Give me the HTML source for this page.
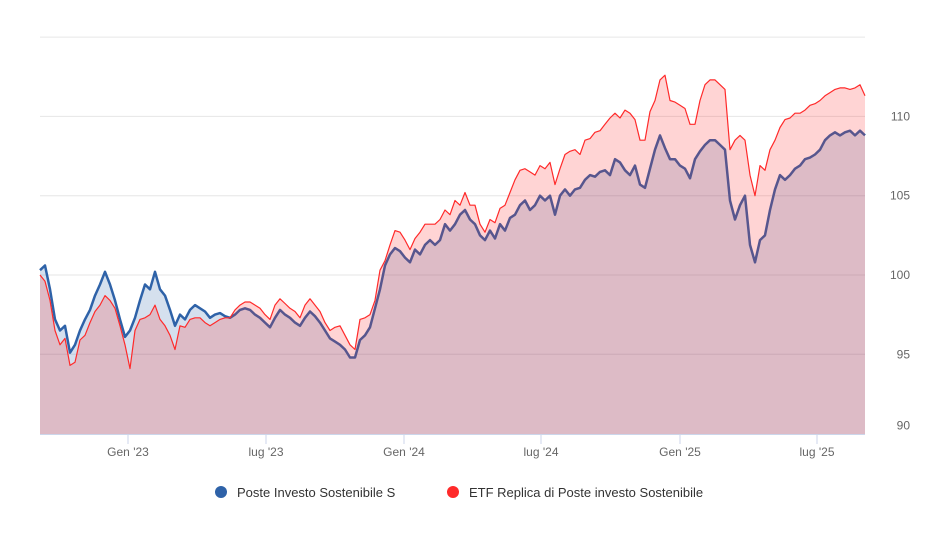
<!DOCTYPE html>
<html><head><meta charset="utf-8"><style>
body{margin:0;background:#fff;font-family:"Liberation Sans",sans-serif}
svg text{font-family:"Liberation Sans",sans-serif}
</style></head><body>
<svg id="chart" width="926" height="531" viewBox="0 0 926 531" xmlns="http://www.w3.org/2000/svg">
<g id="grid"></g>
<g id="series"></g>
<g id="axes"></g>
<g>
<g><circle cx="221" cy="492" r="6" fill="#2e62a8"/><text x="237" y="497" font-size="13" fill="#333">Poste Investo Sostenibile S</text></g>
<g><circle cx="453" cy="492" r="6" fill="#ff2a2a"/><text x="469" y="497" font-size="13" fill="#333">ETF Replica di Poste investo Sostenibile</text></g>
</g>
</svg>
<script>
const posteValues=[100.3,100.6,99.1,97.2,96.5,96.8,95.1,95.6,96.5,97.2,97.8,98.7,99.4,100.2,99.4,98.4,97.2,96.1,96.5,97.3,98.4,99.4,99.1,100.2,99.1,98.7,97.8,96.8,97.5,97.2,97.8,98.1,97.9,97.7,97.3,97.5,97.6,97.4,97.3,97.5,97.8,97.9,97.8,97.5,97.3,97.0,96.7,97.3,97.8,97.5,97.3,97.0,96.8,97.3,97.7,97.4,97.0,96.5,96.0,95.8,95.6,95.3,94.8,94.8,95.9,96.2,96.7,97.9,99.1,100.6,101.3,101.7,101.5,
101.1,100.8,101.6,101.3,101.9,102.2,101.9,102.2,103.2,102.8,103.2,103.8,104.1,103.5,103.2,102.5,102.2,102.8,102.3,103.2,102.8,103.6,103.8,104.4,104.7,104.1,104.4,105.0,104.7,105.0,103.8,105.0,105.4,105.0,105.4,105.5,106.0,106.3,106.2,106.5,106.6,106.3,107.3,107.1,106.6,106.3,106.9,105.7,105.5,106.7,107.9,108.8,108.0,107.3,107.3,106.9,106.7,106.1,107.3,107.8,108.2,108.5,108.5,108.2,107.9,104.7,103.5,104.4,105.0,101.9,100.8,102.2,102.5,104.1,105.4,106.3,106.0,106.3,106.7,106.9,107.3,107.4,107.6,107.9,108.5,108.8,109.0,108.8,109.0,109.1,108.8,109.1,108.8];
const etfValues=[100.0,99.6,98.4,96.5,95.6,96.0,94.3,94.5,95.9,96.2,97.0,97.7,98.1,98.7,98.4,97.9,96.8,95.6,94.1,96.5,97.2,97.3,97.5,98.1,97.2,96.8,96.2,95.3,96.8,96.7,97.2,97.3,97.3,97.0,96.8,97.0,97.2,97.3,97.3,97.8,98.1,98.3,98.3,98.1,97.9,97.5,97.2,98.1,98.5,98.2,97.9,97.7,97.3,98.1,98.5,98.1,97.7,97.0,96.5,96.7,96.8,96.2,95.6,95.3,97.2,97.3,97.5,98.4,100.3,100.9,101.9,102.8,102.7,
102.2,101.6,102.3,102.7,103.2,103.2,103.2,103.5,104.1,103.8,104.7,104.4,105.2,104.4,104.4,103.2,102.7,103.5,103.3,104.2,104.4,105.2,106.0,106.6,106.7,106.5,106.3,106.9,106.7,107.1,105.7,106.7,107.6,107.8,107.9,107.6,108.5,108.6,109.0,109.1,109.5,109.9,110.2,109.9,110.4,110.2,109.8,108.5,108.5,110.3,111.0,112.3,112.6,111.0,110.9,110.7,110.5,109.5,109.5,111.0,112.0,112.3,112.3,112.0,111.7,107.9,108.5,108.8,108.5,106.3,105.0,106.9,106.6,107.9,108.5,109.3,109.8,109.9,110.2,110.2,110.4,110.7,110.8,111.0,111.3,111.5,111.7,111.8,111.8,111.7,111.8,112.0,111.3];
const yTicks=[90,95,100,105,110,115];
const xTickLabels=["Gen '23","lug '23","Gen '24","lug '24","Gen '25","lug '25"];
const xTickIndex=[17.6,45.2,72.8,100.2,128,155.4];

const NS="http://www.w3.org/2000/svg";
const L=40,R=865,N=posteValues.length;
function xs(i){return L+i*(R-L)/(N-1);}
function ys(v){return 275-(v-100)*15.86;}
function mk(t,a,p){const e=document.createElementNS(NS,t);for(const k in a)e.setAttribute(k,a[k]);p.appendChild(e);return e;}
const grid=document.getElementById('grid'),axes=document.getElementById('axes'),ser=document.getElementById('series');
yTicks.forEach(v=>{
  if(v>90){const g=mk('line',{x1:L,x2:R,y1:ys(v),y2:ys(v),stroke:'#e6e6e6','stroke-width':1},grid);
  
  }
  if(v<115){const t=mk('text',{x:910,y:ys(v)+(v===90?-4:4),'text-anchor':'end','font-size':12,fill:'#666'},axes);t.textContent=v;
  
  }
});
const base=mk('line',{x1:L,x2:R,y1:434.5,y2:434.5,stroke:'#ccd6eb','stroke-width':1},axes);


xTickLabels.forEach((s,k)=>{
  const x=xs(xTickIndex[k]);
  const tk=mk('line',{x1:x,x2:x,y1:434,y2:444,stroke:'#ccd6eb'},axes);
  
  
  const t=mk('text',{x:x,y:456,'text-anchor':'middle','font-size':12,fill:'#666'},axes);t.textContent=s;
  
  
});
function draw(vals,fill,stroke,w,name){
  let d='';vals.forEach((v,i)=>{d+=(i?'L':'M')+xs(i).toFixed(1)+' '+ys(v).toFixed(1);});
  const a=mk('path',{d:d+'L'+R+' 434L'+L+' 434Z',fill:fill,stroke:'none'},ser);
  
  
  const l=mk('path',{d:d,fill:'none',stroke:stroke,'stroke-width':w,'stroke-linejoin':'round'},ser);
  
  
}
draw(posteValues,'rgba(46,98,168,0.2)','#2e62a8',2.5,'poste');
draw(etfValues,'rgba(255,40,40,0.2)','#ff2a2a',1.2,'etf');
</script>
</body></html>
